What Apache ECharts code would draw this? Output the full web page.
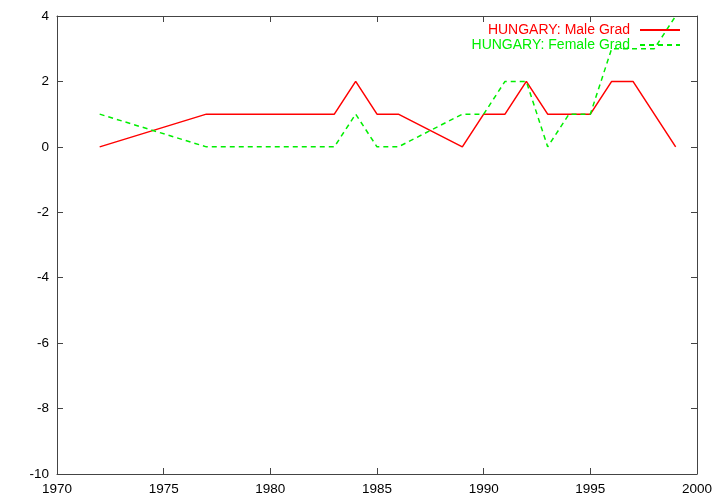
<!DOCTYPE html>
<html><head><meta charset="utf-8">
<script src="https://cdn.jsdelivr.net/npm/echarts@6/dist/echarts.min.js"></script>
<style>html,body{margin:0;padding:0;background:#fff}#c{width:720px;height:504px}</style>
</head><body><div id="c"></div>
<script>
const maleYears   = [1972,1977,1983,1984,1985,1986,1989,1990,1991,1992,1993,1995,1996,1997,1999];
const maleValues  = [0,1,1,2,1,1,0,1,1,2,1,1,2,2,0];
const femaleYears = [1972,1977,1983,1984,1985,1986,1989,1990,1991,1992,1993,1994,1995,1996,1997,1998,1999];
const femaleValues= [1,0,0,1,0,0,1,1,2,2,0,1,1,3,3,3,4];
const seriesNames = ['HUNGARY: Male Grad','HUNGARY: Female Grad'];

const font = 'Liberation Sans, Arial, sans-serif';
const axisLine = {show:true, onZero:false, lineStyle:{color:'#444', width:1}};
const tick = {show:true, inside:true, length:6, lineStyle:{color:'#444'}};
const chart = echarts.init(document.getElementById('c'), null, {renderer:'canvas'});
chart.setOption({
  animation:false,
  backgroundColor:'#fff',
  grid:{left:57, right:23, top:16, bottom:30},
  legend:{
    right:34, top:18, orient:'vertical', align:'right', itemGap:1,
    itemWidth:40, itemHeight:14,
    itemStyle:{opacity:0},
    textStyle:{fontFamily:font, fontSize:14, padding:[0,5,0,0]},
    data:[{name:seriesNames[0], textStyle:{color:'#ff0000'}},
          {name:seriesNames[1], textStyle:{color:'#00ee00'}}]
  },
  xAxis:[{
    type:'value', min:1970, max:2000, interval:5, position:'bottom',
    axisLine:axisLine, axisTick:tick, splitLine:{show:false},
    axisLabel:{color:'#000', fontFamily:font, fontSize:13.5, margin:8, formatter:v=>String(v)}
  },{
    type:'value', min:1970, max:2000, interval:5, position:'top',
    axisLine:axisLine, axisTick:tick, splitLine:{show:false}, axisLabel:{show:false}
  }],
  yAxis:[{
    type:'value', min:-10, max:4, interval:2, position:'left',
    axisLine:axisLine, axisTick:tick, splitLine:{show:false},
    axisLabel:{color:'#000', fontFamily:font, fontSize:13.5, margin:8}
  },{
    type:'value', min:-10, max:4, interval:2, position:'right',
    axisLine:axisLine, axisTick:tick, splitLine:{show:false}, axisLabel:{show:false}
  }],
  series:[{
    name:seriesNames[0], type:'line', showSymbol:false, symbol:'none',
    data: maleYears.map((y,i)=>[y, maleValues[i]]),
    lineStyle:{color:'#ff0000', width:1.5}, itemStyle:{color:'#ff0000'}, clip:true
  },{
    name:seriesNames[1], type:'line', showSymbol:false, symbol:'none',
    data: femaleYears.map((y,i)=>[y, femaleValues[i]]),
    lineStyle:{color:'#00ee00', width:1.5, type:[5,4]}, itemStyle:{color:'#00ee00'}, clip:true
  }]
});
</script></body></html>
